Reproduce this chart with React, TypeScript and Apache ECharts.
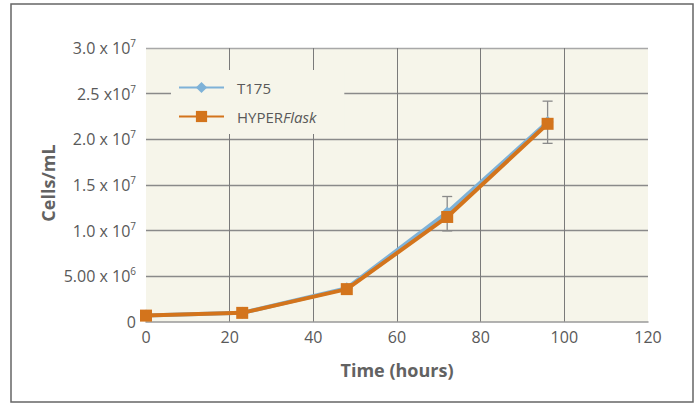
import React, { useEffect, useRef } from "react";
import * as echarts from "echarts";

const times = [0, 23, 48, 72, 96];
const t175 = [0.7e6, 1.0e6, 3.7e6, 12.0e6, 21.9e6];
const hyperFlask = [0.7e6, 1.0e6, 3.6e6, 11.5e6, 21.7e6];
const errTimes = [72, 96];
const errLow = [9.97e6, 19.56e6];
const errHigh = [13.74e6, 24.18e6];
const xTicks = [0, 20, 40, 60, 80, 100, 120];
const yTickLabels: Record<number, string> = {
  0: "0",
  5000000: "5.00 x 10{s|6}",
  10000000: "1.0 x 10{s|7}",
  15000000: "1.5 x 10{s|7}",
  20000000: "2.0 x 10{s|7}",
  25000000: "2.5 x10{s|7}",
  30000000: "3.0 x 10{s|7}",
};
const yTitle = "Cells/mL";
const xTitle = "Time (hours)";

const FONT = "Open Sans";
const TXT = "#595959";

export default function App() {
  const ref = useRef<HTMLDivElement>(null);
  useEffect(() => {
    if (!ref.current) return;
    const chart = echarts.init(ref.current, undefined, { renderer: "svg" });
    const errData = errTimes.map((t, i) => [t, errLow[i], errHigh[i]]);
    chart.setOption({
      animation: false,
      textStyle: { fontFamily: FONT },
      graphic: [
        {
          type: "rect",
          shape: { x: 11, y: 4, width: 682, height: 398 },
          style: { fill: "none", stroke: "#666", lineWidth: 1.5 },
          z: 100,
        },
        {
          type: "text",
          x: 48,
          y: 183,
          rotation: Math.PI / 2,
          style: {
            text: yTitle,
            align: "center",
            verticalAlign: "middle",
            fontSize: 18,
            fontWeight: "bold",
            fontFamily: FONT,
            fill: "#626262",
          },
        },
      ],
      grid: {
        left: 146,
        right: 49,
        top: 48,
        bottom: 82,
        show: true,
        backgroundColor: "#F6F5EA",
        borderWidth: 0,
      },
      legend: {
        orient: "vertical",
        left: 171,
        top: 70,
        padding: [10, 28, 10, 7],
        backgroundColor: "#F6F5EA",
        itemWidth: 45,
        itemHeight: 14,
        itemGap: 14,
        data: ["T175", "HYPERFlask"],
        formatter: (name: string) =>
          name === "HYPERFlask" ? "HYPER{i|Flask}" : name,
        textStyle: {
          color: TXT,
          fontSize: 15,
          fontFamily: FONT,
          padding: [0, 0, 0, 8],
          rich: { i: { fontStyle: "italic", fontSize: 15, color: TXT, fontFamily: FONT } },
        },
        z: 10,
      },
      xAxis: {
        type: "value",
        min: 0,
        max: 120,
        interval: 20,
        name: xTitle,
        nameLocation: "middle",
        nameGap: 39,
        nameTextStyle: { fontSize: 18, fontWeight: "bold", color: "#626262", fontFamily: FONT },
        axisLine: { show: true, lineStyle: { color: "#999", width: 1.5 } },
        axisTick: { show: false },
        axisLabel: {
          color: TXT,
          fontSize: 16,
          margin: 7,
          formatter: (v: number) => (xTicks.includes(v) ? String(v) : ""),
        },
        splitLine: {
          show: true,
          lineStyle: {
            color: ["transparent", "#7a7a7a", "#7a7a7a", "#7a7a7a", "#7a7a7a", "#7a7a7a", "transparent"],
            width: 1,
          },
        },
      },
      yAxis: {
        type: "value",
        min: 0,
        max: 30000000,
        interval: 5000000,
        axisLine: { show: false },
        axisTick: { show: false },
        axisLabel: {
          color: TXT,
          fontSize: 16,
          margin: 10,
          formatter: (v: number) => yTickLabels[v] ?? "",
          rich: {
            s: { fontSize: 10, color: TXT, padding: [0, 0, 10, 0], fontFamily: FONT },
          },
        },
        splitLine: {
          show: true,
          lineStyle: {
            color: ["transparent", "#8a8a8a", "#8a8a8a", "#8a8a8a", "#8a8a8a", "#8a8a8a", "#a8a8a8"],
            width: 1.3,
          },
        },
      },
      series: [
        {
          name: "errors",
          type: "custom",
          data: errData,
          z: 1,
          renderItem: (params: any, api: any) => {
            const x = api.coord([api.value(0), api.value(1)]);
            const y2 = api.coord([api.value(0), api.value(2)]);
            const w = 5;
            const style = { stroke: "#8a8a8a", lineWidth: 1.3 };
            return {
              type: "group",
              children: [
                { type: "line", shape: { x1: x[0], y1: x[1], x2: y2[0], y2: y2[1] }, style },
                { type: "line", shape: { x1: x[0] - w, y1: x[1], x2: x[0] + w, y2: x[1] }, style },
                { type: "line", shape: { x1: y2[0] - w, y1: y2[1], x2: y2[0] + w, y2: y2[1] }, style },
              ],
            };
          },
        },
        {
          name: "T175",
          type: "line",
          data: times.map((t, i) => [t, t175[i]]),
          symbol: "diamond",
          symbolSize: 12,
          color: "#7EB2D8",
          lineStyle: { width: 4, color: "#7EB2D8" },
          itemStyle: { color: "#7EB2D8" },
          z: 2,
        },
        {
          name: "HYPERFlask",
          type: "line",
          data: times.map((t, i) => [t, hyperFlask[i]]),
          symbol: "rect",
          symbolSize: 12,
          color: "#D3741C",
          lineStyle: { width: 4, color: "#D3741C" },
          itemStyle: { color: "#D3741C" },
          z: 3,
        },
      ],
    });
    return () => chart.dispose();
  }, []);
  return (
    <div
      ref={ref}
      style={{ position: "fixed", left: 0, top: 0, width: 697, height: 404, background: "#fff" }}
    />
  );
}
